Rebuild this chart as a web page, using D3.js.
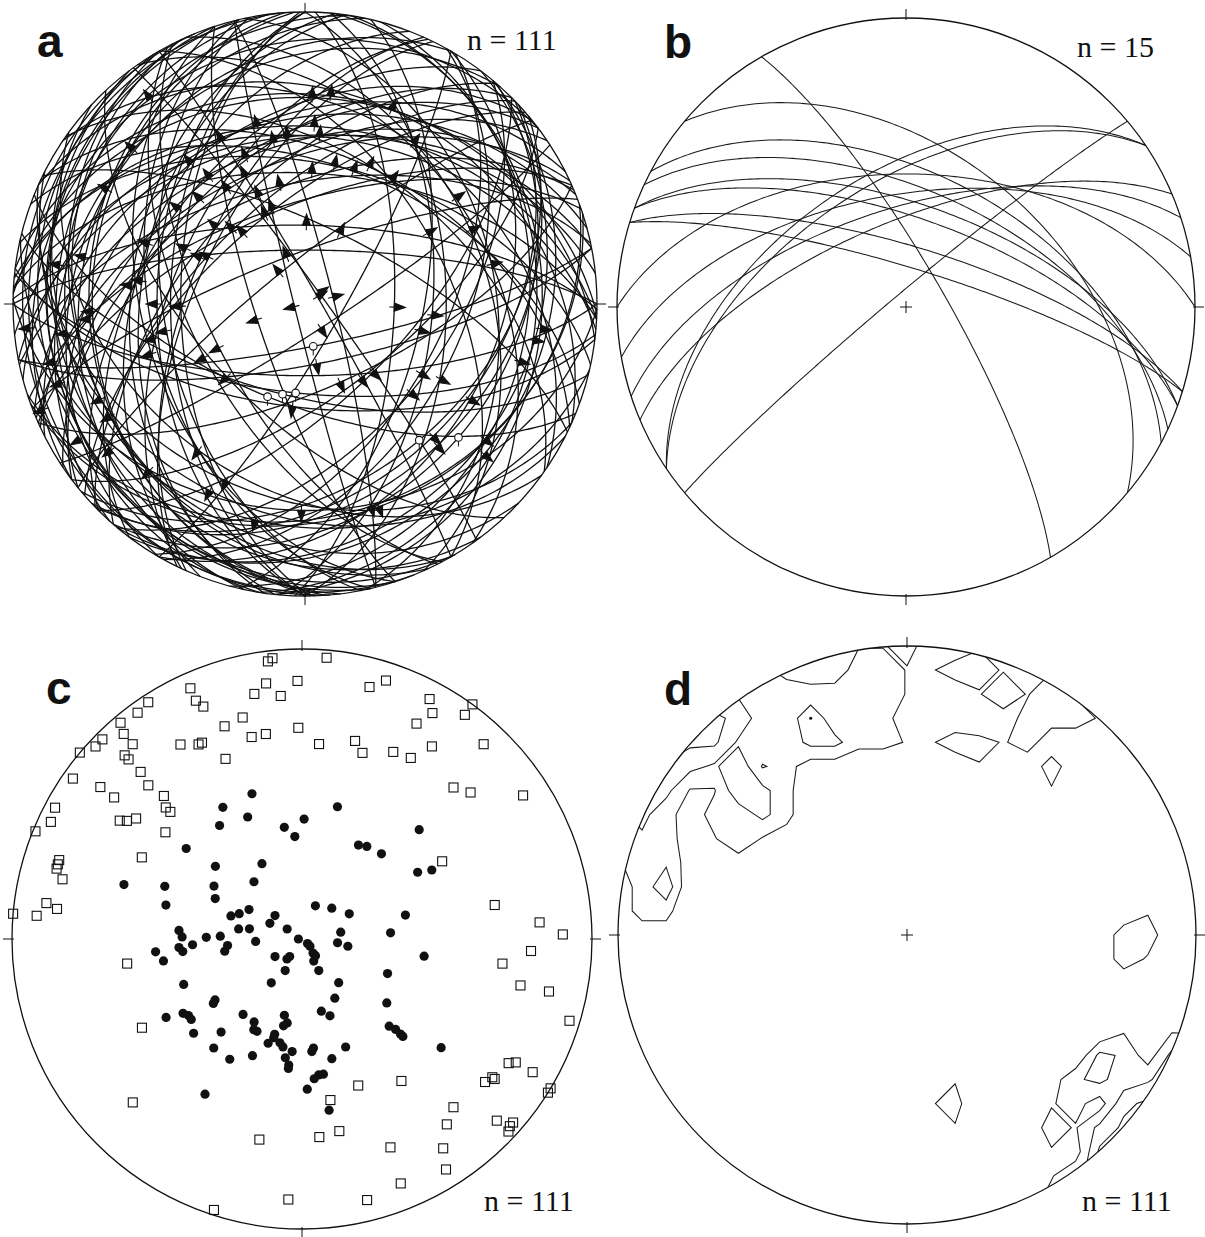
<!DOCTYPE html>
<html>
<head>
<meta charset="utf-8">
<script src="https://cdn.jsdelivr.net/npm/d3@7"></script>
<style>
  body { margin: 0; background: #fff; }
  svg { display: block; }
</style>
</head>
<body>
<svg id="fig" width="1205" height="1237"></svg>
<script>
// ---------- data (trend / plunge in degrees, lower hemisphere) ----------

// Slip lineations with a known sense (arrows in a); each fault plane dips along its striation
const slipTrend = [
  312,300,321,323,326,335,345,3,5,20,
  25,34,35,315,307,291,295,294,276,270,
  269,257,259,337,341,321,252,60,76,169,
  156,135,92,103,121,136,137,204,216,252,
  354,12,311,319,1,323,279,266,257,252,
  245,239,233,223,207,127,130,119,120,55,
  66,78,162,181,193,105,96,24,7,
  282,333,338,348,336,316,296,339,278,349,
  2,3,26,54,60,265,263,268,242,243,
  256,240,227,187,248,147,143,130,95,99,
  160
];
const slipPlunge = [
  22,23,38,45,51,50,37,39,42,50,
  47,34,47,48,45,42,53,58,40,48,
  55,46,50,57,62,79,76,86,82,73,
  66,63,65,57,52,37,34,34,38,44,
  42,50,57,64,68,13,16,27,13,13,
  24,11,18,23,29,24,21,46,35,37,
  38,35,28,30,25,25,20,28,29,
  24,37,45,56,63,61,60,76,43,43,
  30,53,68,85,50,6,19,28,58,63,
  87,24,60,61,4,82,64,51,54,22,
  27
];
// Lineations without a known sense (open circles in a)
const openTrend  = [202,194,186,169,140,131];
const openPlunge = [62,64,65,78,39,31];
// Planes of a without a measured striation: dip direction / dip
const bareDipDir = [90,270,0,180,120];
const bareDip    = [50,52,75,70,80];

// P axes (filled dots in c)
const pTrend = [
  341,329,336,324,15,1,351,356,47,31,
  35,43,308,332,310,60,62,320,287,291,
  301,284,295,22,44,62,77,288,292,299,
  311,296,279,281,304,80,86,274,271,271,
  272,267,270,130,132,142,141,152,96,99,
  265,261,266,264,265,261,267,237,217,215,
  208,152,98,112,215,140,249,151,127,235,
  234,240,238,236,234,218,210,208,206,193,
  190,192,165,160,135,134,134,134,229,221,
  196,196,198,192,190,185,188,186,186,174,
  175,158,166,203,211,219,128,173,171,175,
  178,212,171
];
const pPlunge = [
  46,46,52,50,51,56,58,61,44,59,
  58,57,48,66,58,52,48,69,36,48,
  61,50,63,80,78,75,60,69,71,73,
  80,80,72,75,85,79,65,55,56,63,
  67,59,89,88,87,85,84,83,80,77,
  48,50,55,56,69,68,77,81,83,84,
  80,80,55,64,75,74,54,71,60,60,
  59,45,50,51,51,63,63,61,61,68,
  66,65,69,67,55,53,51,50,49,55,
  62,61,59,60,59,58,56,54,53,59,
  58,57,55,54,50,50,39,51,51,50,
  47,37,40
];

// T axes (open squares in c, contoured in d)
const tTrend = [
  353,354,5,336,336,337,327,324,320,319,
  319,316,316,315,313,310,305,307,307,316,
  315,316,314,314,308,306,304,303,298,295,
  292,288,286,284,278,277,275,275,297,262,
  241,226,340,345,349,352,355,359,359,346,
  350,328,332,333,337,5,15,18,26,31,
  34,15,18,28,30,28,36,36,43,45,
  49,57,61,80,86,89,93,97,102,102,
  107,121,120,120,128,126,126,121,122,138,
  142,133,131,133,132,146,148,158,145,159,
  170,169,175,157,192,183,166,198,287
];
const tPlunge = [
  4,3,3,6,11,14,3,4,3,7,
  12,13,15,3,3,0,4,14,20,21,
  26,32,35,37,40,30,28,26,4,5,
  1,13,13,16,12,16,9,0,38,39,
  37,20,23,22,15,12,17,12,28,29,
  29,22,25,25,33,33,30,33,29,28,
  21,11,7,7,11,17,5,0,9,27,
  24,10,44,33,19,11,22,31,24,14,
  4,18,16,9,21,20,19,0,0,23,
  20,9,4,3,4,14,7,10,40,45,
  43,33,32,23,30,11,8,2,13
];

// Planes of b: dip direction / dip
const bDipDir = [60,320,40,28,25,20,20,17,17,0,350,342,337,326,326];
const bDip    = [79,86,46,52,57,61,65,73,79,52,58,62,66,52,55];

// Panel letters and counts
const panelLetters = ["a","b","c","d"];
const countLabels  = ["n = 111","n = 15","n = 111","n = 111"];

// Contour levels for d (% per 1% area)
const contourLevels = [2, 4, 6];

// ---------- layout ----------
const panels = [
  {cx: 305, cy: 304, R: 292, letter: [37, 57],  label: [467, 50]},
  {cx: 906, cy: 307, R: 289, letter: [664, 58], label: [1077, 57]},
  {cx: 302, cy: 939, R: 290, letter: [46, 704], label: [484, 1211]},
  {cx: 907, cy: 935, R: 289, letter: [664, 705], label: [1082, 1211]}
];

const svg = d3.select("#fig");
svg.append("rect").attr("width", 1205).attr("height", 1237).attr("fill", "#fff");

// Schmidt net, lower hemisphere: the vertical is the projection centre,
// trend t maps to longitude 180 - t, plunge to latitude.
function net(p) {
  return d3.geoAzimuthalEqualArea()
    .rotate([0, -90])
    .clipAngle(90)
    .scale(p.R / Math.SQRT2)
    .translate([p.cx, p.cy])
    .precision(0.2);
}
const geo = (t, pl) => [180 - t, pl];

// great circle of the plane with the given dip direction and dip
function greatCircle(dipDir, dip) {
  const pole = geo((dipDir + 180) % 360, 90 - dip);
  const ring = d3.geoCircle().center(pole).radius(90).precision(1)().coordinates[0];
  return {type: "LineString", coordinates: ring};
}

function frame(g, p, cross) {
  g.append("circle")
    .attr("cx", p.cx).attr("cy", p.cy).attr("r", p.R)
    .attr("fill", "none").attr("stroke", "#111").attr("stroke-width", 1.3);
  [[0, -1], [1, 0], [0, 1], [-1, 0]].forEach(([ux, uy]) => {
    g.append("line")
      .attr("x1", p.cx + ux * (p.R - 2)).attr("y1", p.cy + uy * (p.R - 2))
      .attr("x2", p.cx + ux * (p.R + 9)).attr("y2", p.cy + uy * (p.R + 9))
      .attr("stroke", "#111").attr("stroke-width", 1);
  });
  if (cross) {
    g.append("path")
      .attr("d", `M${p.cx - 6},${p.cy}H${p.cx + 6}M${p.cx},${p.cy - 6}V${p.cy + 6}`)
      .attr("stroke", "#111").attr("stroke-width", 1).attr("fill", "none");
  }
}

function labels(g, p, i) {
  g.append("text")
    .attr("x", p.letter[0]).attr("y", p.letter[1])
    .attr("font-family", "Liberation Sans, Arial, sans-serif")
    .attr("font-weight", "bold").attr("font-size", 46).attr("fill", "#111")
    .text(panelLetters[i]);
  g.append("text")
    .attr("x", p.label[0]).attr("y", p.label[1])
    .attr("font-family", "Liberation Serif, Times New Roman, serif")
    .attr("font-size", 30).attr("fill", "#111")
    .text(countLabels[i]);
}

// ---------- a: fault planes with slip arrows ----------
{
  const p = panels[0], proj = net(p), path = d3.geoPath(proj);
  const g = svg.append("g");
  const planes = [
    ...slipTrend.map((t, i) => greatCircle(t, slipPlunge[i])),
    ...openTrend.map((t, i) => greatCircle(t, openPlunge[i])),
    ...bareDipDir.map((dd, i) => greatCircle(dd, bareDip[i]))
  ];
  g.selectAll("path.gc").data(planes)
    .join("path").attr("class", "gc").attr("d", path)
    .attr("fill", "none").attr("stroke", "#111").attr("stroke-width", 1.3);

  // hanging-wall slip: arrows point along the trend of the striation
  const arrows = slipTrend.map((t, i) => {
    const [x, y] = proj(geo(t, slipPlunge[i]));
    const a = t * Math.PI / 180;
    return {x, y, ux: Math.sin(a), uy: -Math.cos(a)};
  });
  g.selectAll("path.arrow").data(arrows).join("path").attr("class", "arrow")
    .attr("d", d => {
      const L = 11, w = 4, tx = d.x + d.ux * L, ty = d.y + d.uy * L;
      return `M${d.x - d.ux * 5},${d.y - d.uy * 5}L${d.x},${d.y}` +
        `M${tx},${ty}L${d.x - d.uy * w},${d.y + d.ux * w}L${d.x + d.uy * w},${d.y - d.ux * w}Z`;
    })
    .attr("fill", "#111").attr("stroke", "#111").attr("stroke-width", 1.1);

  g.selectAll("g.open").data(openTrend.map((t, i) => proj(geo(t, openPlunge[i]))))
    .join("g").attr("class", "open").each(function (d) {
      d3.select(this).append("line")
        .attr("x1", d[0]).attr("y1", d[1] + 3.8).attr("x2", d[0]).attr("y2", d[1] + 9)
        .attr("stroke", "#111").attr("stroke-width", 1);
      d3.select(this).append("circle")
        .attr("cx", d[0]).attr("cy", d[1]).attr("r", 3.8)
        .attr("fill", "#fff").attr("stroke", "#111").attr("stroke-width", 1.1);
    });

  frame(g, p, false);
  labels(g, p, 0);
}

// ---------- b: the fifteen planes ----------
{
  const p = panels[1], proj = net(p), path = d3.geoPath(proj);
  const g = svg.append("g");
  g.selectAll("path.gc")
    .data(bDipDir.map((dd, i) => greatCircle(dd, bDip[i])))
    .join("path").attr("class", "gc").attr("d", path)
    .attr("fill", "none").attr("stroke", "#1a1a1a").attr("stroke-width", 1.05);
  frame(g, p, true);
  labels(g, p, 1);
}

// ---------- c: P axes (dots) and T axes (squares) ----------
{
  const p = panels[2], proj = net(p);
  const g = svg.append("g");
  frame(g, p, false);
  g.selectAll("rect.sq").data(tTrend.map((t, i) => proj(geo(t, tPlunge[i]))))
    .join("rect").attr("class", "sq")
    .attr("x", d => d[0] - 4.5).attr("y", d => d[1] - 4.5)
    .attr("width", 9).attr("height", 9)
    .attr("fill", "none").attr("stroke", "#111").attr("stroke-width", 1.1);
  g.selectAll("circle.pax").data(pTrend.map((t, i) => proj(geo(t, pPlunge[i]))))
    .join("circle").attr("class", "pax")
    .attr("cx", d => d[0]).attr("cy", d => d[1]).attr("r", 4.6)
    .attr("fill", "#111");
  labels(g, p, 2);
}

// ---------- d: T axes counted in 1% area cones, contoured ----------
{
  const p = panels[3], proj = net(p);
  const g = svg.append("g");
  const toVec = (lon, lat) => {
    const l = lon * Math.PI / 180, f = lat * Math.PI / 180;
    return [Math.cos(f) * Math.cos(l), Math.cos(f) * Math.sin(l), Math.sin(f)];
  };
  const vecs = tTrend.map((t, i) => toVec(...geo(t, tPlunge[i])));
  const cone = 0.99;               // cos of the half-angle of a 1% counting cone
  const G = 27;                    // grid nodes per side
  const step = 2 * p.R / (G - 3);
  const x0 = p.cx - p.R - step, y0 = p.cy - p.R - step;
  const grid = new Array(G * G);
  let best = {v: -1, i: 0, j: 0};
  for (let j = 0; j < G; j++) {
    for (let i = 0; i < G; i++) {
      let dx = x0 + i * step - p.cx, dy = y0 + j * step - p.cy;
      const r = Math.hypot(dx, dy);
      if (r > p.R * 0.999) { dx *= p.R * 0.999 / r; dy *= p.R * 0.999 / r; }
      const ll = proj.invert([p.cx + dx, p.cy + dy]);
      const v = toVec(ll[0], ll[1]);
      let c = 0;
      for (const q of vecs) if (Math.abs(q[0] * v[0] + q[1] * v[1] + q[2] * v[2]) >= cone) c++;
      const val = 100 * c / vecs.length;
      grid[j * G + i] = val;
      if (r <= p.R * 0.9 && val > best.v) best = {v: val, i, j};
    }
  }
  const contours = d3.contours().size([G, G]).thresholds(contourLevels)(grid);
  const toPx = d3.geoTransform({
    point(x, y) { this.stream.point(x0 + (x - 0.5) * step, y0 + (y - 0.5) * step); }
  });
  svg.append("clipPath").attr("id", "clipD")
    .append("circle").attr("cx", p.cx).attr("cy", p.cy).attr("r", p.R);
  g.append("g").attr("clip-path", "url(#clipD)")
    .selectAll("path").data(contours).join("path")
    .attr("d", d3.geoPath(toPx))
    .attr("fill", "none").attr("stroke", "#1a1a1a").attr("stroke-width", 1.05);
  g.append("circle")
    .attr("cx", x0 + best.i * step).attr("cy", y0 + best.j * step).attr("r", 1.6)
    .attr("fill", "#111");
  frame(g, p, true);
  labels(g, p, 3);
}
</script>
</body>
</html>
